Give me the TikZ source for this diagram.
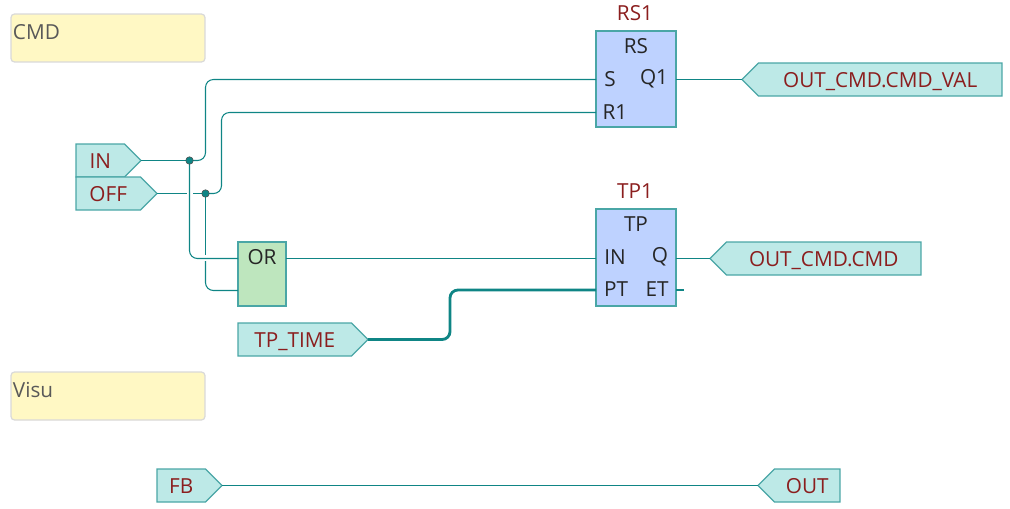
\documentclass[tikz,border=0pt]{standalone}
\usepackage{fontspec}
\setmainfont{Open Sans}
\usepackage{xcolor}
\usetikzlibrary{shapes.symbols}
\definecolor{wireteal}{HTML}{0F8585}
\definecolor{edgeteal}{HTML}{4AA6A6}
\definecolor{tagfill}{HTML}{BDE9E7}
\definecolor{fbfill}{HTML}{BED2FF}
\definecolor{orfill}{HTML}{BEE6BE}
\definecolor{notefill}{HTML}{FFF8C4}
\definecolor{varred}{HTML}{8B1E1E}
\tikzset{
  every node/.style={font=\fontsize{11.8}{14}\selectfont, outer sep=0pt, inner sep=0pt},
  wire/.style={draw=wireteal, line width=0.6pt, rounded corners=4.5pt},
  buswire/.style={draw=wireteal, line width=1.6pt, rounded corners=4.5pt},
  dot/.style={circle, fill=wireteal, draw=black!70, line width=0.3pt, minimum size=0.15cm},
  tagin/.style={signal, signal to=east, signal from=nowhere, signal pointer angle=90,
    draw=edgeteal, fill=tagfill, line width=0.7pt, text=varred, text height=0.3cm, text depth=0cm,
    minimum height=0.66cm, anchor=west},
  tagout/.style={signal, signal to=west, signal from=nowhere, signal pointer angle=90,
    draw=edgeteal, fill=tagfill, line width=0.7pt, text=varred, text height=0.3cm, text depth=0cm,
    minimum height=0.66cm, anchor=west},
  block/.style={draw=edgeteal, fill=fbfill, line width=0.7pt, minimum width=1.6cm, anchor=north west},
  orblock/.style={draw=edgeteal, fill=orfill, line width=0.7pt, minimum width=0.96cm, minimum height=1.28cm, anchor=north west},
  note/.style={draw=black!15, fill=notefill, line width=0.7pt, rounded corners=2pt,
    minimum width=3.88cm, minimum height=0.96cm, anchor=north west},
  notetext/.style={anchor=north west, text=black!65, yshift=-0.2cm, xshift=0.04cm},
  pin/.style={text=black!85},
  inst/.style={text=varred}
}
\begin{document}
\begin{tikzpicture}[x=0.02cm, y=-0.02cm]
  \useasboundingbox (0,0) rectangle (1010,508);
  \node[note] (cmdnote) at (11,14) {};
  \node[notetext] (cmdtext) at (cmdnote.north west) {CMD};
  \node[note] (visunote) at (11,372) {};
  \node[notetext] (visutext) at (visunote.north west) {Visu};
  \node[tagin, minimum width=1.3cm] (in) at (76,160.5) {IN};
  \node[tagin, minimum width=1.62cm] (off) at (76,193.5) {OFF};
  \node[tagin, minimum width=2.6cm] (tptime) at (238,339.5) {TP\_TIME};
  \node[tagin, minimum width=1.3cm] (fb) at (157,485.5) {FB};
  \node[tagout, minimum width=5.2cm] (cmdval) at (742,79.5) {OUT\_CMD.CMD\_VAL};
  \node[tagout, minimum width=4.22cm] (cmdout) at (710,258.5) {OUT\_CMD.CMD};
  \node[tagout, minimum width=1.64cm] (out) at (758,485.5) {OUT};
  \node[block, minimum height=1.92cm] (rs) at (596,31) {};
  \node[inst] (rsname) at (635,13) {RS1};
  \node[pin] (rstype) at (636,46) {RS};
  \node[pin] (rss) at (610,79) {S};
  \node[pin] (rsr) at (615,112) {R1};
  \node[pin] (rsq) at (654,79) {Q1};
  \node[block, minimum height=1.94cm] (tp) at (596,209) {};
  \node[inst] (tpname) at (635,191) {TP1};
  \node[pin] (tptype) at (636,224) {TP};
  \node[pin] (tpin) at (615,257) {IN};
  \node[pin] (tppt) at (616,289) {PT};
  \node[pin] (tpq) at (660,257) {Q};
  \node[pin] (tpet) at (657,289) {ET};
  \node[orblock] (orgate) at (238,242) {};
  \node[pin] (ortype) at (262,257) {OR};
  \coordinate (rss w) at (rs.west |- 0,79.5);
  \coordinate (rsr w) at (rs.west |- 0,112.5);
  \coordinate (rsq e) at (rs.east |- 0,79.5);
  \coordinate (tpin w) at (tp.west |- 0,258.5);
  \coordinate (tppt w) at (tp.west |- 0,290);
  \coordinate (tpq e) at (tp.east |- 0,258.5);
  \coordinate (tpet e) at (tp.east |- 0,290);
  \coordinate (etend) at (684,290);
  \coordinate (orin a) at (orgate.west |- 0,258.5);
  \coordinate (orin b) at (orgate.west |- 0,290.5);
  \coordinate (orout) at (orgate.east |- 0,258.5);
  \coordinate (jin) at (189.5,160.5);
  \coordinate (joff) at (205.5,193.5);
  \draw[wire] (in.east) -- (jin);
  \draw[wire] (jin) -- (205.5,160.5) -- (205.5,79.5) -- (rss w);
  \draw[wire] (off.east) -- (187,193.5);
  \draw[wire] (193,193.5) -- (joff);
  \draw[wire] (joff) -- (221.5,193.5) -- (221.5,112.5) -- (rsr w);
  \draw[wire] (jin) -- (189.5,258.5) -- (orin a);
  \draw[wire] (joff) -- (205.5,255);
  \draw[wire] (205.5,261) -- (205.5,290.5) -- (orin b);
  \draw[wire] (orout) -- (tpin w);
  \draw[wire] (rsq e) -- (cmdval.west);
  \draw[wire] (tpq e) -- (cmdout.west);
  \draw[wire] (fb.east) -- (out.west);
  \draw[buswire] (tptime.east) -- (450,339.5) -- (450,290) -- (tppt w);
  \draw[buswire] (tpet e) -- (etend);
  \node[dot] (dotin) at (jin) {};
  \node[dot] (dotoff) at (joff) {};
\end{tikzpicture}
\end{document}
